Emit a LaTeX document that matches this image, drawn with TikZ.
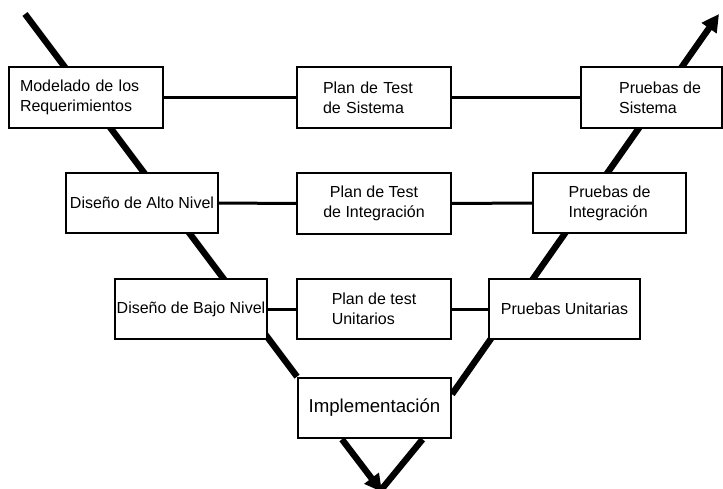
\documentclass[tikz,border=0pt]{standalone}
\usepackage{fontspec}
\setmainfont{Liberation Sans}
\usetikzlibrary{arrows.meta,calc,backgrounds}
% one drawing unit is 0.75pt
\newlength\pxu
\setlength\pxu{0.75pt}

\begin{document}
\begin{tikzpicture}[x=0.75pt,y=-0.75pt,
  box/.style={draw, line width=1.5pt, fill=white, inner sep=0pt,
    font=\fontsize{12}{15}\selectfont, minimum height=45.5pt},
  link/.style={line width=2.25pt},
  vee/.style={line width=4.8pt},
  headtip/.style={-{Triangle[length=13pt,width=13pt]}}
]
\useasboundingbox (0,0) rectangle (723,488);

% left column: design stages
\node[box, align=left, text width=99pt, inner xsep=8.25pt] (m1) at (86,97.5)
  {Modelado de los\\Requerimientos};
\node[box, minimum width=114pt] (m2) at (142,203) {Diseño de Alto Nivel};
\node[box, minimum width=114pt] (m3) at (191,309) {Diseño de Bajo Nivel};

% middle column: test plans
\node[box, align=left, text width=76.5pt, inner xsep=19.5pt] (p1) at (374,97.5)
  {Plan de Test\\de Sistema};
\node[box, align=center, minimum width=115.5pt] (p2) at (374,203.5)
  {Plan de Test\\de Integración};
\node[box, align=left, minimum width=115.5pt] (p3) at (374,309)
  {Plan de test\\Unitarios};

% right column: test stages
\node[box, align=left, minimum width=105.5pt] (t1) at (651.5,97.5)
  {\hspace*{17\pxu}Pruebas de\\\hspace*{17\pxu}Sistema};
\node[box, align=left, minimum width=114.75pt] (t2) at (609.5,203)
  {Pruebas de\\Integración};
\node[box, minimum width=113.25pt] (t3) at (564.5,309) {Pruebas Unitarias};

% bottom of the V
\node[box, minimum width=114.75pt, font=\fontsize{14}{17}\selectfont] (impl) at (374.5,408)
  {Implementación};

% horizontal links between columns
\draw[link] (m1.east) -- (p1.west);
\draw[link] (p1.east) -- (t1.west);
\draw[link] (m2.east) -- (p2.west);
\draw[link] (p2.east) -- (t2.west);
\draw[link] (m3.east) -- (p3.west);
\draw[link] (p3.east) -- (t3.west);

% the V arms, behind the boxes
\coordinate (vstart) at (25,14);
\coordinate (vend) at (719,14);
\coordinate (vlow) at (382,492);
\coordinate (vlow2) at (381,490);
\begin{scope}[on background layer]
  \draw[vee] (vstart) -- (impl.north west);
  \draw[vee, headtip] ($(impl.north east)!0.28!(impl.south east)$) -- (vend);
  \draw[vee, headtip] ($(impl.south west)!0.29!(impl.south east)$) -- (vlow);
  \draw[vee] ($(impl.south west)!0.81!(impl.south east)$) -- (vlow2);
\end{scope}
\end{tikzpicture}
\end{document}
